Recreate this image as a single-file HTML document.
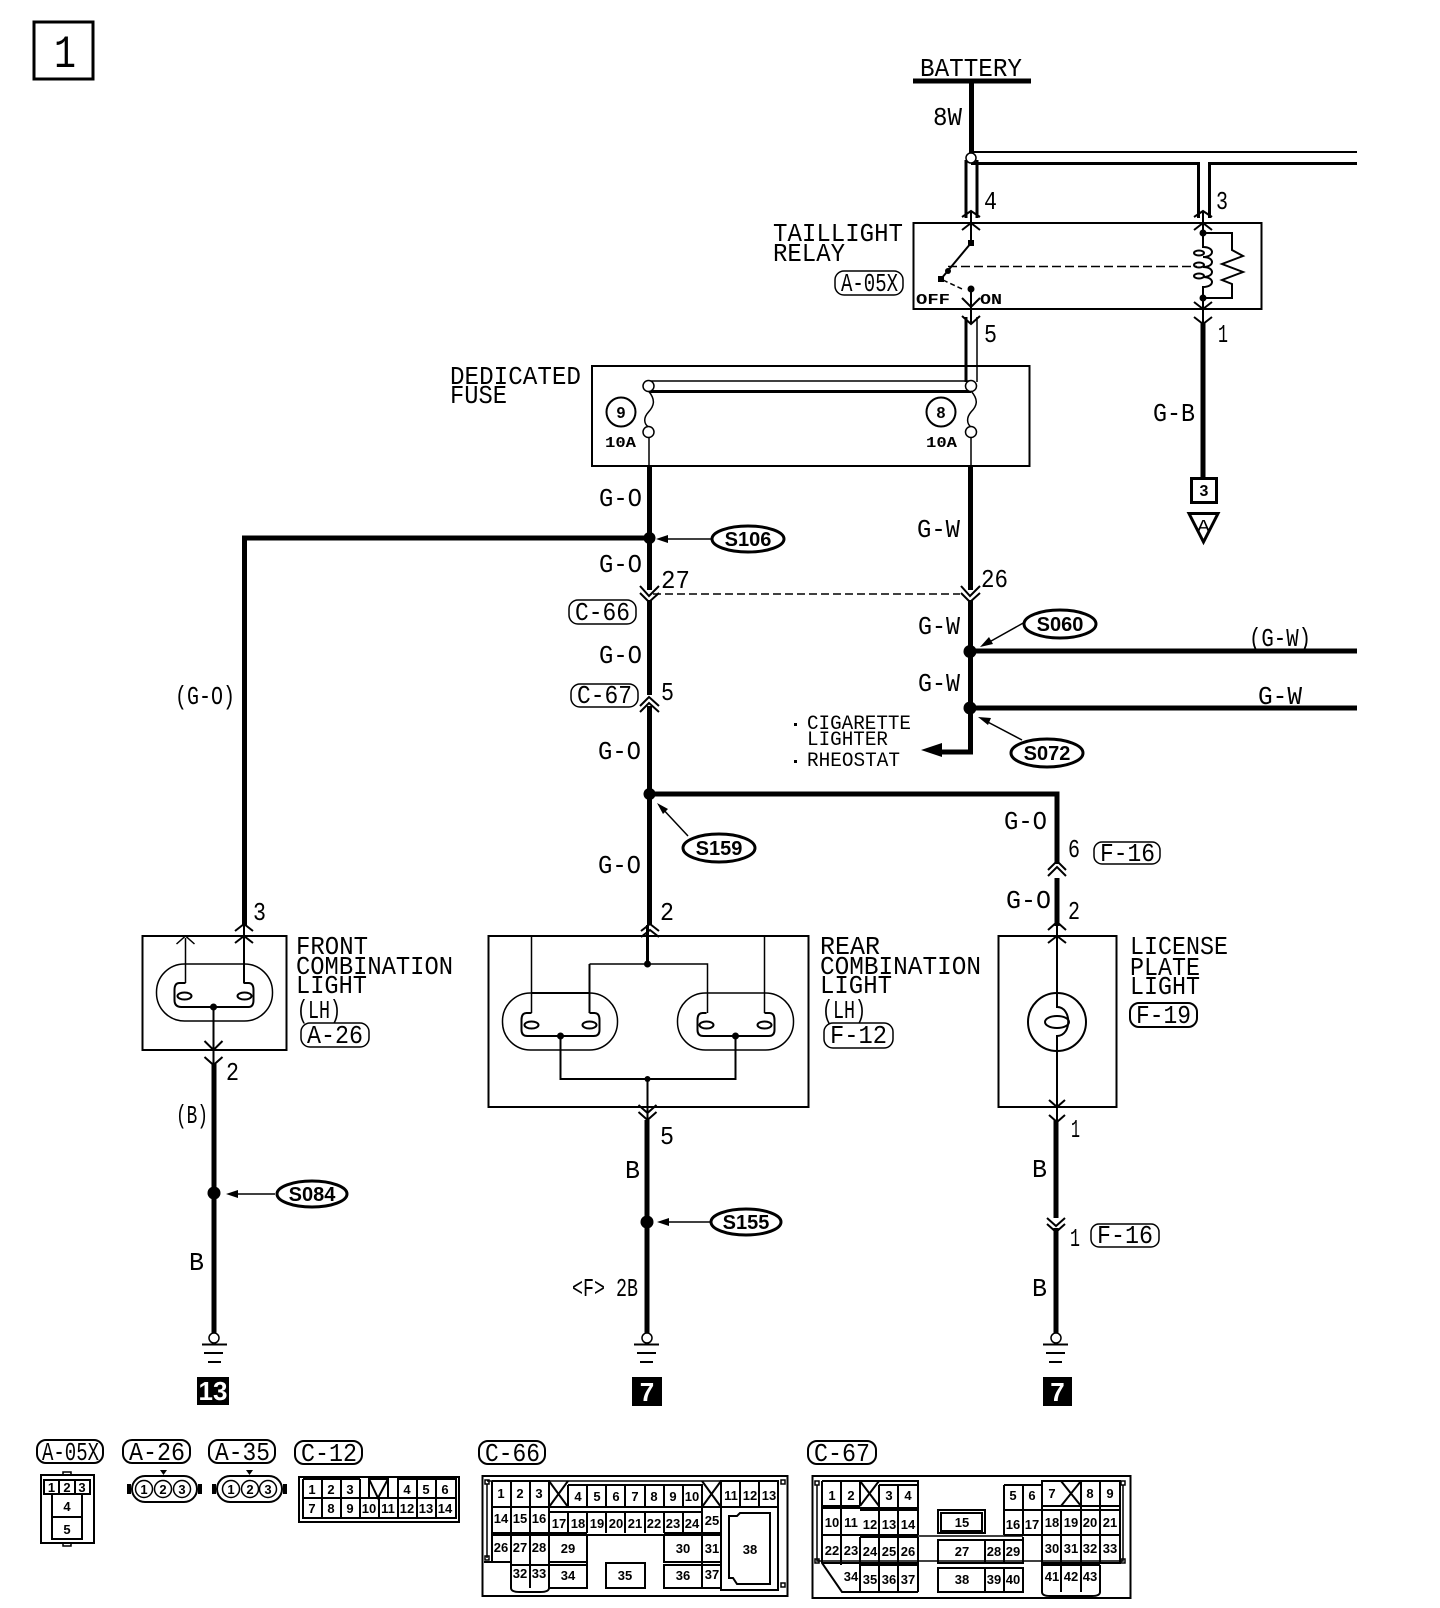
<!DOCTYPE html>
<html lang="en"><head><meta charset="utf-8"><title>Wiring diagram</title>
<style>
html,body{margin:0;padding:0;background:#fff}
svg{display:block}
text{font-family:"Liberation Mono",monospace;font-size:26px;fill:#000;transform:translateY(-1px)}
.b{font-family:"Liberation Sans",sans-serif;font-weight:bold;font-size:13px;text-anchor:middle;transform:none}
.o{font-family:"Liberation Sans",sans-serif;font-weight:bold;font-size:20px;text-anchor:middle;transform:none}
.w{font-family:"Liberation Sans",sans-serif;font-weight:bold;font-size:26px;fill:#fff;text-anchor:middle;transform:none}
.n{fill:none;stroke:#000;stroke-width:2}
.t{fill:none;stroke:#000;stroke-width:1.5}
.k{fill:none;stroke:#000;stroke-width:5}
.h{fill:none;stroke:#000;stroke-width:3}
.d{fill:#000;stroke:none}
.p{fill:#fff;stroke:#000;stroke-width:1.5}
.e{fill:#fff;stroke:#000;stroke-width:3}
</style></head><body>
<svg xmlns="http://www.w3.org/2000/svg" width="1440" height="1608" viewBox="0 0 1440 1608">
<rect width="1440" height="1608" fill="#fff"/>

<!-- page number -->
<rect x="34" y="22" width="59" height="57" class="h"/>
<text x="54" y="68" style="font-size:46px" textLength="22" lengthAdjust="spacingAndGlyphs">1</text>

<!-- battery and feed -->
<path class="k" d="M913 81H1031"/>
<text x="920" y="77" textLength="102" lengthAdjust="spacingAndGlyphs">BATTERY</text>
<path class="k" d="M971.500 83V154"/>
<text x="933" y="126" textLength="29" lengthAdjust="spacingAndGlyphs">8W</text>
<path class="n" d="M971 152H1357"/>
<path class="h" d="M971 163.500H1198.500V218M1209.500 218V163.500H1357"/>
<path class="h" d="M966 160V218M977 160V218"/>
<circle cx="971" cy="158" r="5" class="p" stroke-width="2"/>
<text x="984" y="210" textLength="13" lengthAdjust="spacingAndGlyphs">4</text>
<text x="1216" y="210" textLength="12" lengthAdjust="spacingAndGlyphs">3</text>

<!-- relay -->
<rect x="913.500" y="223" width="348" height="86" class="n"/>
<text x="773" y="242" textLength="130" lengthAdjust="spacingAndGlyphs">TAILLIGHT</text>
<text x="773" y="262" textLength="72" lengthAdjust="spacingAndGlyphs">RELAY</text>
<rect x="835" y="271" width="68" height="24" rx="9" class="t"/>
<text x="841" y="292" textLength="57" lengthAdjust="spacingAndGlyphs">A-05X</text>
<path class="n" d="M962 217L971 211L980 217M962 230L971 223L980 230M971 211V243"/>
<rect x="968" y="240" width="6" height="6" class="d"/>
<path class="n" d="M971 243L941 279"/>
<rect x="938" y="276" width="6" height="6" class="d"/>
<circle cx="948" cy="271" r="3" class="d"/>
<path class="t" d="M943 280L962 289" stroke-dasharray="5 3"/>
<path class="t" d="M948 266.500H1197" stroke-dasharray="9 4"/>
<circle cx="971" cy="289" r="3.500" class="d"/>
<path class="n" d="M971 289V323M962 298L971 307L980 298M962 316L971 324L980 316"/>
<text x="916" y="305" style="font-size:15px;font-weight:bold" textLength="34" lengthAdjust="spacingAndGlyphs">OFF</text>
<text x="980" y="305" style="font-size:15px;font-weight:bold" textLength="22" lengthAdjust="spacingAndGlyphs">ON</text>
<path class="h" d="M966 317V382"/><path class="t" d="M977 317V382"/>
<text x="984" y="343" textLength="13" lengthAdjust="spacingAndGlyphs">5</text>
<!-- coil -->
<path class="n" d="M1194 217L1203 211L1212 217M1194 230L1203 223L1212 230M1203 211V233"/>
<circle cx="1203" cy="233" r="3.500" class="d"/>
<path class="n" d="M1203 233H1232V250L1243 256L1222 264L1243 272L1222 280L1232 284V298H1203"/>
<path class="n" d="M1203 233V247C1215 247 1215 257 1203 257C1215 257 1215 267 1203 267C1215 267 1215 277 1203 277C1215 277 1215 287 1203 287V298"/>
<ellipse cx="1199" cy="253" rx="5" ry="2.500" class="n"/><ellipse cx="1199" cy="265" rx="5" ry="2.500" class="n"/><ellipse cx="1199" cy="276" rx="5" ry="2.500" class="n"/>
<circle cx="1203" cy="298" r="3.500" class="d"/>
<path class="n" d="M1203 298V323M1194 302L1203 309L1212 302M1194 317L1203 324L1212 317"/>
<path class="k" d="M1203 323V478"/>
<text x="1218" y="343" textLength="10" lengthAdjust="spacingAndGlyphs">1</text>
<text x="1153" y="422" textLength="42" lengthAdjust="spacingAndGlyphs">G-B</text>
<rect x="1191.500" y="478.500" width="25" height="24" class="h"/>
<text class="b" x="1204" y="496" style="font-size:16px">3</text>
<path class="h" d="M1189 513.500H1218L1203.500 542Z"/>
<text x="1197" y="532" style="font-size:18px;transform:none" textLength="13" lengthAdjust="spacingAndGlyphs">A</text>

<!-- fuse box -->
<rect x="592" y="366" width="437.500" height="100" class="n"/>
<text x="450" y="385" textLength="131" lengthAdjust="spacingAndGlyphs">DEDICATED</text>
<text x="450" y="404" textLength="57" lengthAdjust="spacingAndGlyphs">FUSE</text>
<path class="t" d="M649 381H971"/><path class="h" d="M649 391.500H971"/>
<circle cx="648.500" cy="386" r="5.500" class="p"/><circle cx="971" cy="386" r="5.500" class="p"/>
<path class="t" d="M648.500 391C656 400 654 406 648.500 412C643 418 644 424 648.500 427M971 391C979 400 977 406 971 412C966 418 967 424 971 427"/>
<circle cx="648.500" cy="432" r="5.500" class="p"/><circle cx="971" cy="432" r="5.500" class="p"/>
<path class="t" d="M649 437V466M971 437V466"/>
<circle cx="621" cy="412" r="14.500" class="n"/><circle cx="941" cy="412" r="14.500" class="n"/>
<text class="b" x="621" y="418" style="font-size:16px">9</text>
<text class="b" x="941" y="418" style="font-size:16px">8</text>
<text x="605" y="448" style="font-size:15px;font-weight:bold" textLength="31" lengthAdjust="spacingAndGlyphs">10A</text>
<text x="926" y="448" style="font-size:15px;font-weight:bold" textLength="31" lengthAdjust="spacingAndGlyphs">10A</text>

<!-- main wires -->
<path class="k" d="M649.500 466V590M649.500 600V695M649.500 706V925"/>
<path class="k" d="M970.500 466V590M970.500 600V752H938"/>
<path class="k" d="M649 538H244.500V926"/>
<path class="k" d="M649 794H1057V864M1057 878V926"/>
<path class="k" d="M970 651H1357M970 708H1357"/>
<path class="d" d="M921 750L942 743V757Z"/>
<circle cx="649.500" cy="538" r="6" class="d"/>
<circle cx="970" cy="651.500" r="6.500" class="d"/>
<circle cx="970" cy="708" r="6.500" class="d"/>
<circle cx="649.500" cy="794" r="6" class="d"/>
<path class="n" d="M640 586L649 596L659 586M640 593L649 602L659 593"/>
<path class="n" d="M961 586L970 596L980 586M961 593L970 602L980 593"/>
<path class="t" d="M653 594H960" stroke-dasharray="8 4"/>
<path class="n" d="M640 712L649 703L659 712M640 706L649 697L659 706"/>
<path class="n" d="M1048 870L1057 861L1066 870M1048 876L1057 867L1066 876"/>

<!-- splices -->
<ellipse cx="748" cy="539" rx="36" ry="13" class="e"/><text class="o" x="748" y="546">S106</text>
<path class="t" d="M711 539H660"/><path class="d" d="M656 539L668 535V543Z"/>
<ellipse cx="1060" cy="624" rx="36" ry="14" class="e"/><text class="o" x="1060" y="631">S060</text>
<path class="t" d="M1025 622L984 645"/><path class="d" d="M980 647L989 637L993 644Z"/>
<ellipse cx="1047" cy="753" rx="36" ry="14" class="e"/><text class="o" x="1047" y="760">S072</text>
<path class="t" d="M1022 740L982 719"/><path class="d" d="M978 717L991 718L988 725Z"/>
<ellipse cx="719" cy="848" rx="36" ry="14" class="e"/><text class="o" x="719" y="855">S159</text>
<path class="t" d="M688 836L660 806"/><path class="d" d="M657 803L668 809L663 814Z"/>
<ellipse cx="312" cy="1194" rx="35" ry="13" class="e"/><text class="o" x="312" y="1201">S084</text>
<path class="t" d="M275 1194H230"/><path class="d" d="M226 1194L238 1190V1198Z"/>
<ellipse cx="746" cy="1222" rx="35" ry="13" class="e"/><text class="o" x="746" y="1229">S155</text>
<path class="t" d="M710 1222H661"/><path class="d" d="M657 1222L669 1218V1226Z"/>

<!-- center labels -->
<text x="599" y="507" textLength="43" lengthAdjust="spacingAndGlyphs">G-O</text>
<text x="599" y="573" textLength="43" lengthAdjust="spacingAndGlyphs">G-O</text>
<text x="599" y="664" textLength="43" lengthAdjust="spacingAndGlyphs">G-O</text>
<text x="598" y="760" textLength="43" lengthAdjust="spacingAndGlyphs">G-O</text>
<text x="598" y="874" textLength="43" lengthAdjust="spacingAndGlyphs">G-O</text>
<text x="917" y="538" textLength="43" lengthAdjust="spacingAndGlyphs">G-W</text>
<text x="918" y="635" textLength="42" lengthAdjust="spacingAndGlyphs">G-W</text>
<text x="918" y="692" textLength="42" lengthAdjust="spacingAndGlyphs">G-W</text>
<text x="1249" y="647" textLength="62" lengthAdjust="spacingAndGlyphs">(G-W)</text>
<text x="1258" y="705" textLength="44" lengthAdjust="spacingAndGlyphs">G-W</text>
<text x="175" y="705" textLength="60" lengthAdjust="spacingAndGlyphs">(G-O)</text>
<text x="661" y="589" textLength="29" lengthAdjust="spacingAndGlyphs">27</text>
<text x="981" y="588" textLength="27" lengthAdjust="spacingAndGlyphs">26</text>
<text x="661" y="701" textLength="13" lengthAdjust="spacingAndGlyphs">5</text>
<rect x="569" y="600" width="67" height="24" rx="9" class="t"/>
<text x="575" y="621" textLength="55" lengthAdjust="spacingAndGlyphs">C-66</text>
<rect x="571" y="684" width="67" height="23" rx="9" class="t"/>
<text x="577" y="704" textLength="55" lengthAdjust="spacingAndGlyphs">C-67</text>
<text x="807" y="730" style="font-size:20px" textLength="104" lengthAdjust="spacingAndGlyphs">CIGARETTE</text>
<text x="807" y="746" style="font-size:20px" textLength="81" lengthAdjust="spacingAndGlyphs">LIGHTER</text>
<text x="807" y="767" style="font-size:20px" textLength="93" lengthAdjust="spacingAndGlyphs">RHEOSTAT</text>
<rect x="794" y="723" width="3" height="3" class="d"/><rect x="794" y="760" width="3" height="3" class="d"/>
<text x="1004" y="830" textLength="43" lengthAdjust="spacingAndGlyphs">G-O</text>
<text x="1068" y="858" textLength="12" lengthAdjust="spacingAndGlyphs">6</text>
<rect x="1094" y="842" width="66" height="22" rx="8" class="t"/>
<text x="1100" y="862" textLength="55" lengthAdjust="spacingAndGlyphs">F-16</text>
<text x="1006" y="909" textLength="45" lengthAdjust="spacingAndGlyphs">G-O</text>

<!-- front combination light -->
<rect x="142.500" y="936" width="144" height="114" class="n"/>
<text x="296" y="955" textLength="72" lengthAdjust="spacingAndGlyphs">FRONT</text>
<text x="296" y="975" textLength="157" lengthAdjust="spacingAndGlyphs">COMBINATION</text>
<text x="296" y="994" textLength="71" lengthAdjust="spacingAndGlyphs">LIGHT</text>
<text x="297" y="1019" textLength="44" lengthAdjust="spacingAndGlyphs">(LH)</text>
<rect x="301" y="1023" width="68" height="24" rx="9" class="t"/>
<text x="307" y="1044" textLength="56" lengthAdjust="spacingAndGlyphs">A-26</text>
<text x="253" y="921" textLength="13" lengthAdjust="spacingAndGlyphs">3</text>
<path class="n" d="M235 931L244 924L253 931M235 943L244 936L253 943M244 926V983"/>
<g transform="translate(-1.500,0)">
<path class="t" d="M187 938V983M178 944L187 936L196 944"/>
<rect x="158" y="964" width="116" height="57" rx="28" class="t"/>
<path class="n" d="M187 983H181Q176 983 176 990V1000Q176 1007 183 1007H250Q255 1007 255 1000V990Q255 983 250 983H245"/>
<ellipse cx="186" cy="996" rx="7" ry="3.500" class="n"/><ellipse cx="246" cy="996" rx="7" ry="3.500" class="n"/>
<circle cx="215" cy="1007" r="3.500" class="d"/>
<path class="n" d="M215 1007V1070M206 1041L215 1050L224 1041M206 1057L215 1065L224 1057"/>
</g>
<path class="k" d="M214 1064V1335"/>
<text x="226" y="1081" textLength="13" lengthAdjust="spacingAndGlyphs">2</text>
<text x="176" y="1124" textLength="32" lengthAdjust="spacingAndGlyphs">(B)</text>
<circle cx="214" cy="1193" r="6.500" class="d"/>
<text x="189" y="1271" textLength="15" lengthAdjust="spacingAndGlyphs">B</text>

<!-- rear combination light -->
<rect x="488.500" y="936" width="320" height="171" class="n"/>
<text x="820" y="955" textLength="60" lengthAdjust="spacingAndGlyphs">REAR</text>
<text x="820" y="975" textLength="161" lengthAdjust="spacingAndGlyphs">COMBINATION</text>
<text x="820" y="994" textLength="72" lengthAdjust="spacingAndGlyphs">LIGHT</text>
<text x="822" y="1019" textLength="44" lengthAdjust="spacingAndGlyphs">(LH)</text>
<rect x="824" y="1023" width="69" height="25" rx="9" class="t"/>
<text x="830" y="1044" textLength="57" lengthAdjust="spacingAndGlyphs">F-12</text>
<text x="660" y="921" textLength="14" lengthAdjust="spacingAndGlyphs">2</text>
<path class="n" d="M641 931L650 924L659 931M641 937L650 930L659 937"/>
<g transform="translate(-2.500,0)">
<path class="h" d="M650 925V964"/>
<circle cx="650" cy="964" r="3.500" class="d"/>
<path class="t" d="M534 936V1013M767 936V1013"/>
<path class="t" d="M592 964H710V1013"/>
<path class="n" d="M592 964V1013"/>
<rect x="505" y="993" width="115" height="57" rx="28" class="t"/>
<rect x="680" y="993" width="116" height="57" rx="28" class="t"/>
<path class="n" d="M534 993H592"/>
<path class="n" d="M534 1013H529Q524 1013 524 1020V1030Q524 1036 530 1036H596Q602 1036 602 1030V1020Q602 1013 597 1013H592"/>
<path class="n" d="M709 1013H705Q700 1013 700 1020V1030Q700 1036 706 1036H771Q777 1036 777 1030V1020Q777 1013 772 1013H767"/>
<ellipse cx="534" cy="1025" rx="7" ry="3.500" class="n"/><ellipse cx="592" cy="1025" rx="7" ry="3.500" class="n"/>
<ellipse cx="709" cy="1025" rx="7" ry="3.500" class="n"/><ellipse cx="767" cy="1025" rx="7" ry="3.500" class="n"/>
<circle cx="563" cy="1036" r="3.500" class="d"/><circle cx="738" cy="1036" r="3.500" class="d"/>
<path class="n" d="M563 1036V1079H738V1036"/>
<circle cx="650" cy="1079" r="3" class="d"/>
<path class="n" d="M650 1079V1124M641 1105L650 1113L659 1105M641 1112L650 1120L659 1112"/>
</g>
<path class="k" d="M647 1120V1335"/>
<text x="660" y="1145" textLength="14" lengthAdjust="spacingAndGlyphs">5</text>
<text x="625" y="1179" textLength="15" lengthAdjust="spacingAndGlyphs">B</text>
<circle cx="647" cy="1222" r="6.500" class="d"/>
<text x="572" y="1297" textLength="66" lengthAdjust="spacingAndGlyphs">&lt;F&gt; 2B</text>

<!-- license plate light -->
<rect x="998.500" y="936" width="118" height="171" class="n"/>
<text x="1130" y="955" textLength="98" lengthAdjust="spacingAndGlyphs">LICENSE</text>
<text x="1130" y="976" textLength="70" lengthAdjust="spacingAndGlyphs">PLATE</text>
<text x="1130" y="995" textLength="70" lengthAdjust="spacingAndGlyphs">LIGHT</text>
<rect x="1130" y="1003" width="67" height="24" rx="9" class="n"/>
<text x="1136" y="1024" textLength="55" lengthAdjust="spacingAndGlyphs">F-19</text>
<text x="1068" y="920" textLength="12" lengthAdjust="spacingAndGlyphs">2</text>
<path class="n" d="M1048 930L1057 922L1066 930M1048 943L1057 936L1066 943"/>
<path class="n" d="M1057 925V1007C1072 1007 1072 1036 1057 1036V1122"/>
<circle cx="1057" cy="1022" r="29" class="n"/>
<ellipse cx="1057" cy="1022" rx="12" ry="6" class="n"/>
<path class="n" d="M1049 1100L1057 1107L1065 1100M1049 1115L1057 1122L1065 1115"/>
<path class="k" d="M1056 1120V1218M1056 1228V1335"/>
<path class="n" d="M1047 1218L1056 1226L1065 1218M1047 1224L1056 1232L1065 1224"/>
<text x="1071" y="1138" textLength="9" lengthAdjust="spacingAndGlyphs">1</text>
<text x="1032" y="1178" textLength="15" lengthAdjust="spacingAndGlyphs">B</text>
<text x="1070" y="1247" textLength="10" lengthAdjust="spacingAndGlyphs">1</text>
<rect x="1091" y="1224" width="68" height="23" rx="8" class="t"/>
<text x="1097" y="1244" textLength="56" lengthAdjust="spacingAndGlyphs">F-16</text>
<text x="1032" y="1297" textLength="15" lengthAdjust="spacingAndGlyphs">B</text>

<!-- grounds -->
<circle cx="214" cy="1338" r="5" class="p"/>
<path class="n" d="M202 1344.500H227M204 1353H223M208 1362H221"/>
<circle cx="647" cy="1338" r="5" class="p"/>
<path class="n" d="M634 1344.500H659M637 1353H656M640 1362H653"/>
<circle cx="1056" cy="1338" r="5" class="p"/>
<path class="n" d="M1043 1344.500H1068M1046 1353H1065M1049 1362H1062"/>
<rect x="197" y="1377" width="32" height="28" class="d"/><text class="w" x="213" y="1400">13</text>
<rect x="632" y="1377" width="30" height="29" class="d"/><text class="w" x="647" y="1401">7</text>
<rect x="1043" y="1377" width="29" height="29" class="d"/><text class="w" x="1057.500" y="1401">7</text>

<!-- connector names -->
<rect x="37" y="1440" width="66" height="23" rx="9" class="n"/><text x="42" y="1461" textLength="57" lengthAdjust="spacingAndGlyphs">A-05X</text>
<rect x="123" y="1440" width="67" height="23" rx="9" class="n"/><text x="129" y="1461" textLength="56" lengthAdjust="spacingAndGlyphs">A-26</text>
<rect x="209" y="1440" width="66" height="23" rx="9" class="n"/><text x="215" y="1461" textLength="55" lengthAdjust="spacingAndGlyphs">A-35</text>
<rect x="295" y="1441" width="67" height="23" rx="9" class="n"/><text x="301" y="1462" textLength="56" lengthAdjust="spacingAndGlyphs">C-12</text>
<rect x="479" y="1441" width="66" height="23" rx="9" class="n"/><text x="485" y="1462" textLength="55" lengthAdjust="spacingAndGlyphs">C-66</text>
<rect x="808" y="1441" width="68" height="23" rx="9" class="n"/><text x="814" y="1462" textLength="56" lengthAdjust="spacingAndGlyphs">C-67</text>

<!-- A-05X connector -->
<rect x="41" y="1475" width="53" height="68" class="n"/>
<rect x="63" y="1472" width="8" height="3" class="t"/><rect x="63" y="1543" width="8" height="3" class="t"/>
<path class="n" d="M44 1480H90V1494H44ZM59 1480V1494M75 1480V1494M52 1494V1539H82V1494M52 1517H82"/>
<text class="b" x="51.500" y="1492">1</text><text class="b" x="67" y="1492">2</text><text class="b" x="82" y="1492">3</text>
<text class="b" x="67" y="1511">4</text><text class="b" x="67" y="1534">5</text>

<!-- A-26 / A-35 -->
<rect x="132" y="1476" width="65" height="26" rx="13" class="n"/>
<rect x="127" y="1484" width="4" height="10" class="d"/><rect x="198" y="1484" width="4" height="10" class="d"/>
<path class="d" d="M160 1470H167L163.500 1475Z"/>
<circle cx="144" cy="1489" r="8.500" class="p"/><circle cx="163" cy="1489" r="8.500" class="p"/><circle cx="182" cy="1489" r="8.500" class="p"/>
<text class="b" x="144" y="1494">1</text><text class="b" x="163" y="1494">2</text><text class="b" x="182" y="1494">3</text>
<rect x="217" y="1476" width="65" height="26" rx="13" class="n"/>
<rect x="212" y="1484" width="4" height="10" class="d"/><rect x="283" y="1484" width="4" height="10" class="d"/>
<path class="d" d="M246 1470H253L249.500 1475Z"/>
<circle cx="231" cy="1489" r="8.500" class="p"/><circle cx="250" cy="1489" r="8.500" class="p"/><circle cx="268" cy="1489" r="8.500" class="p"/>
<text class="b" x="231" y="1494">1</text><text class="b" x="250" y="1494">2</text><text class="b" x="268" y="1494">3</text>

<!-- C-12 -->
<rect x="299" y="1477" width="160" height="45" class="n"/>
<path class="n" d="M303 1479V1518H456V1479H398V1498M360 1479H303M303 1498H456M322 1479V1518M341 1479V1518M360 1479V1518M379 1498V1518M398 1498V1518M417 1479V1518M436 1479V1518"/>
<path class="n" d="M369 1479V1498H388V1479ZM369 1479L378 1498L388 1479"/>
<text class="b" x="312" y="1494">1</text><text class="b" x="331" y="1494">2</text><text class="b" x="350" y="1494">3</text><text class="b" x="407" y="1494">4</text><text class="b" x="426" y="1494">5</text><text class="b" x="445" y="1494">6</text>
<text class="b" x="312" y="1513">7</text><text class="b" x="331" y="1513">8</text><text class="b" x="350" y="1513">9</text><text class="b" x="369" y="1513">10</text><text class="b" x="388" y="1513">11</text><text class="b" x="407" y="1513">12</text><text class="b" x="426" y="1513">13</text><text class="b" x="445" y="1513">14</text>

<!-- C-66 -->
<rect x="482.500" y="1476" width="305" height="120" class="n"/>
<rect x="485" y="1480" width="4" height="4" class="t"/><rect x="781" y="1480" width="4" height="4" class="t"/><rect x="485" y="1556" width="4" height="4" class="t"/><rect x="781" y="1583" width="4" height="4" class="t"/>
<path class="t" d="M487 1481H778V1586M487 1484V1558"/>
<path class="n" d="M492 1481V1562M492 1481H549V1507M511 1481V1588M530 1481V1588M549 1481V1533M549 1535V1588"/>
<path class="n" d="M492 1507H549M492 1533H549M492 1535H549M484 1562H511M511 1588Q511 1592 520 1592H540Q549 1592 549 1588V1565H511"/>
<path class="n" d="M549 1481L568 1507M568 1481L549 1507M702 1481L721 1507M721 1481L702 1507"/>
<path class="n" d="M568 1485H702V1507M568 1485V1507M587 1485V1507M606 1485V1507M625 1485V1507M645 1485V1507M664 1485V1507M683 1485V1507M549 1507H722"/>
<path class="n" d="M549 1512H702M568 1512V1533M587 1512V1533M606 1512V1533M625 1512V1533M645 1512V1533M664 1512V1533M683 1512V1533M702 1507V1588M549 1533H587M664 1533H722"/>
<path class="n" d="M721 1481H778V1507H721ZM740 1481V1507M759 1481V1507M721 1507V1590H778V1507"/>
<path class="n" d="M729 1516H737L740 1513H770V1584H737L733 1578H729Z"/>
<path class="n" d="M549 1535H587V1562H549ZM549 1565H587V1588H549ZM587 1535V1588H588M587 1535H664M664 1535H702V1562H664ZM664 1565H702V1588H664ZM702 1535H721M702 1562H721M702 1565H721M702 1588H721"/>
<path class="n" d="M606 1563H645V1588H606Z"/>
<text class="b" x="501" y="1498">1</text><text class="b" x="520" y="1498">2</text><text class="b" x="539" y="1498">3</text><text class="b" x="578" y="1501">4</text><text class="b" x="597" y="1501">5</text><text class="b" x="616" y="1501">6</text><text class="b" x="635" y="1501">7</text><text class="b" x="654" y="1501">8</text><text class="b" x="673" y="1501">9</text><text class="b" x="692" y="1501">10</text><text class="b" x="731" y="1500">11</text><text class="b" x="750" y="1500">12</text><text class="b" x="769" y="1500">13</text>
<text class="b" x="501" y="1523">14</text><text class="b" x="520" y="1523">15</text><text class="b" x="539" y="1523">16</text><text class="b" x="559" y="1528">17</text><text class="b" x="578" y="1528">18</text><text class="b" x="597" y="1528">19</text><text class="b" x="616" y="1528">20</text><text class="b" x="635" y="1528">21</text><text class="b" x="654" y="1528">22</text><text class="b" x="673" y="1528">23</text><text class="b" x="692" y="1528">24</text><text class="b" x="712" y="1525">25</text>
<text class="b" x="501" y="1552">26</text><text class="b" x="520" y="1552">27</text><text class="b" x="539" y="1552">28</text><text class="b" x="568" y="1553">29</text><text class="b" x="683" y="1553">30</text><text class="b" x="712" y="1553">31</text><text class="b" x="750" y="1554">38</text>
<text class="b" x="520" y="1578">32</text><text class="b" x="539" y="1578">33</text><text class="b" x="568" y="1580">34</text><text class="b" x="625" y="1580">35</text><text class="b" x="683" y="1580">36</text><text class="b" x="712" y="1579">37</text>

<!-- C-67 -->
<rect x="812.500" y="1476" width="318" height="122" class="n"/>
<rect x="815" y="1481" width="4" height="4" class="t"/><rect x="1121" y="1481" width="4" height="4" class="t"/><rect x="815" y="1559" width="4" height="4" class="t"/><rect x="1121" y="1559" width="4" height="4" class="t"/>
<path class="t" d="M817 1485V1561H1123V1485"/>
<path class="n" d="M822 1481H918V1535M822 1481V1563L842 1592H860V1565M841 1481V1565M860 1481V1506M860 1506H822M822 1508H918M822 1535H918M822 1563H918M879 1485V1592M898 1485V1592M918 1537V1592M860 1537V1592M879 1485H918M860 1510H918M860 1565H918M860 1592H918M860 1537H918"/>
<path class="n" d="M860 1481L879 1506M879 1481L860 1506"/>
<path class="n" d="M938 1510H985V1533H938ZM941 1513H982V1531H941ZM938 1540H1023V1563H938ZM985 1540V1563M1004 1540V1563M1023 1537V1563M938 1568H1023V1592H938ZM985 1568V1592M1004 1568V1592"/>
<path class="t" d="M918 1536H1023"/>
<path class="n" d="M1004 1485H1042V1506M1004 1485V1535M1023 1485V1535M1004 1510H1120M1004 1535H1042M1042 1481H1120V1506H1042ZM1042 1506V1592M1061 1510V1592M1081 1481V1592M1100 1481V1563M1120 1481V1563H1042M1042 1535H1120M1042 1565H1100M1042 1592Q1042 1596 1050 1596H1092Q1100 1596 1100 1592V1565"/>
<path class="n" d="M1061 1481L1081 1506M1081 1481L1061 1506"/>
<text class="b" x="832" y="1500">1</text><text class="b" x="851" y="1500">2</text><text class="b" x="889" y="1500">3</text><text class="b" x="908" y="1500">4</text><text class="b" x="1013" y="1500">5</text><text class="b" x="1032" y="1500">6</text><text class="b" x="1052" y="1498">7</text><text class="b" x="1090" y="1498">8</text><text class="b" x="1110" y="1498">9</text>
<text class="b" x="832" y="1527">10</text><text class="b" x="851" y="1527">11</text><text class="b" x="870" y="1529">12</text><text class="b" x="889" y="1529">13</text><text class="b" x="908" y="1529">14</text><text class="b" x="962" y="1527">15</text><text class="b" x="1013" y="1529">16</text><text class="b" x="1032" y="1529">17</text><text class="b" x="1052" y="1527">18</text><text class="b" x="1071" y="1527">19</text><text class="b" x="1090" y="1527">20</text><text class="b" x="1110" y="1527">21</text>
<text class="b" x="832" y="1555">22</text><text class="b" x="851" y="1555">23</text><text class="b" x="870" y="1556">24</text><text class="b" x="889" y="1556">25</text><text class="b" x="908" y="1556">26</text><text class="b" x="962" y="1556">27</text><text class="b" x="994" y="1556">28</text><text class="b" x="1013" y="1556">29</text><text class="b" x="1052" y="1553">30</text><text class="b" x="1071" y="1553">31</text><text class="b" x="1090" y="1553">32</text><text class="b" x="1110" y="1553">33</text>
<text class="b" x="851" y="1581">34</text><text class="b" x="870" y="1584">35</text><text class="b" x="889" y="1584">36</text><text class="b" x="908" y="1584">37</text><text class="b" x="962" y="1584">38</text><text class="b" x="994" y="1584">39</text><text class="b" x="1013" y="1584">40</text><text class="b" x="1052" y="1581">41</text><text class="b" x="1071" y="1581">42</text><text class="b" x="1090" y="1581">43</text>
</svg>
</body></html>
